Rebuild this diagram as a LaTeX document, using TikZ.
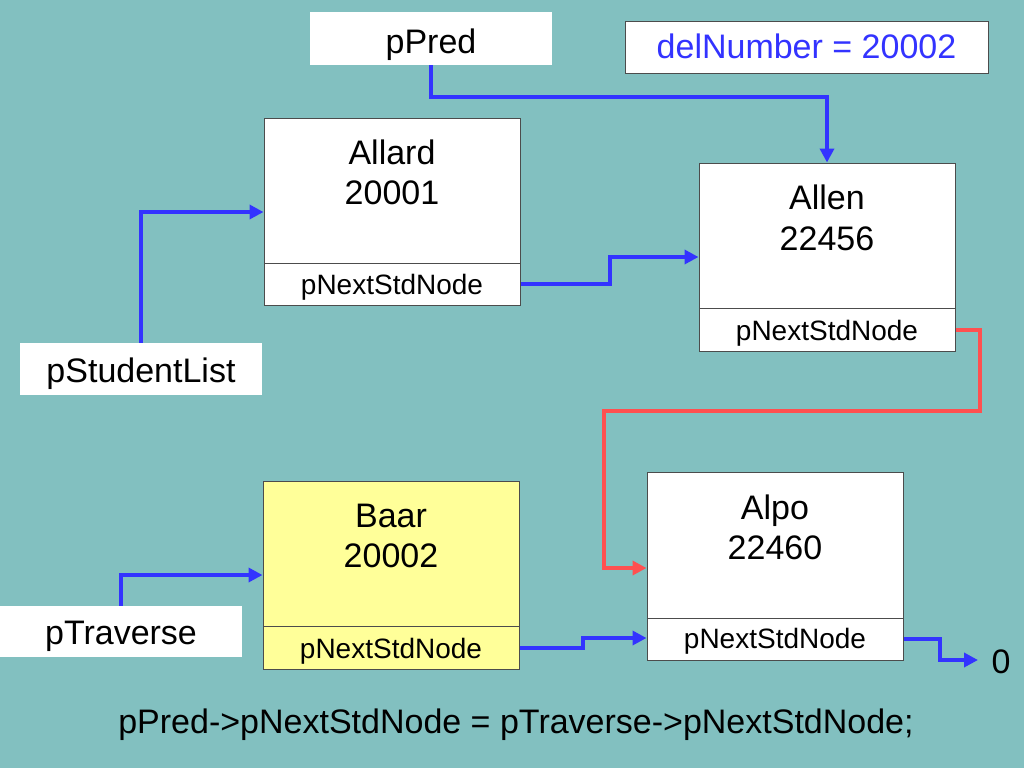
\documentclass[tikz,border=0pt]{standalone}
\usepackage{fontspec}
\setmainfont{Liberation Sans}
\usetikzlibrary{arrows.meta}
\definecolor{bg}{RGB}{130,192,192}
\definecolor{ablue}{RGB}{51,51,255}
\definecolor{ared}{RGB}{255,80,80}
\definecolor{ayellow}{RGB}{255,255,153}
\begin{document}
\begin{tikzpicture}[x=1pt,y=-1pt,
  big/.style={font=\fontsize{34}{40}\selectfont,inner sep=0pt,anchor=base},
  small/.style={font=\fontsize{28}{32}\selectfont,inner sep=0pt,anchor=base},
  rec/.style={draw=black!70,line width=1pt,fill=white,inner sep=0pt},
  plain/.style={fill=white,inner sep=0pt},
  link/.style={draw=ablue,line width=4pt,-{Triangle[length=14pt,width=14pt]}},
  redlink/.style={draw=ared,line width=4pt,-{Triangle[length=14pt,width=14pt]}}]
\useasboundingbox (0,0) rectangle (1024,768);
\fill[bg] (0,0) rectangle (1024,768);

% pointer boxes
\node[plain,minimum width=242pt,minimum height=53pt] (ppred) at (431,38.5) {};
\node[big] (ppredt) at (431,53) {pPred};
\node[rec,minimum width=363pt,minimum height=51pt] (del) at (806.5,47.5) {};
\node[big,text=ablue] (delt) at (806.5,59) {delNumber = 20002};
\node[plain,minimum width=242pt,minimum height=52pt] (plist) at (141,369) {};
\node[big] (plistt) at (141,382) {pStudentList};
\node[plain,minimum width=242pt,minimum height=51pt] (ptrav) at (121,631.5) {};
\node[big] (ptravt) at (121,644) {pTraverse};

% Allard
\node[rec,minimum width=256pt,minimum height=145pt] (allard) at (392,190.5) {};
\node[rec,minimum width=256pt,minimum height=42pt] (allardn) at (392,284) {};
\node[big] (allard1) at (392,164) {Allard};
\node[big] (allard2) at (392,204) {20001};
\node[small] (allardnt) at (392,294) {pNextStdNode};

% Allen
\node[rec,minimum width=256pt,minimum height=145pt] (allen) at (827,235.5) {};
\node[rec,minimum width=256pt,minimum height=43pt] (allenn) at (827,329.5) {};
\node[big] (allen1) at (827,209) {Allen};
\node[big] (allen2) at (827,250) {22456};
\node[small] (allennt) at (827,340) {pNextStdNode};

% Baar
\node[rec,fill=ayellow,minimum width=256pt,minimum height=145pt] (baar) at (391,553.5) {};
\node[rec,fill=ayellow,minimum width=256pt,minimum height=43pt] (baarn) at (391,647.5) {};
\node[big] (baar1) at (391,527) {Baar};
\node[big] (baar2) at (391,567) {20002};
\node[small] (baarnt) at (391,658) {pNextStdNode};

% Alpo
\node[rec,minimum width=256pt,minimum height=146pt] (alpo) at (775,545) {};
\node[rec,minimum width=256pt,minimum height=42pt] (alpon) at (775,639) {};
\node[big] (alpo1) at (775,519) {Alpo};
\node[big] (alpo2) at (775,559) {22460};
\node[small] (alpont) at (775,648) {pNextStdNode};

\node[big] (zero) at (1001,673) {0};
\node[big] (stmt) at (516,733) {pPred->pNextStdNode = pTraverse->pNextStdNode;};

\coordinate (nullend) at (978,660);

% connectors
\draw[link] (ppred.south) -- (431,97) -- (827,97) -- (allen.north);
\draw[link] (plist.north) -- (141,212) -- (allard.west |- 0,212);
\draw[link] (allardn.east) -- (610,284) -- (610,257) -- (allen.west |- 0,257);
\draw[redlink] (allenn.east) -- (980,329.5) -- (980,411) -- (604,411) -- (604,568) -- (alpo.west |- 0,568);
\draw[link] (ptrav.north) -- (121,575) -- (baar.west |- 0,575);
\draw[link] (baarn.east) -- (583,647.5) -- (583,638) -- (alpon.west |- 0,638);
\draw[link] (alpon.east) -- (940,639) -- (940,660) -- (nullend);
\end{tikzpicture}
\end{document}
